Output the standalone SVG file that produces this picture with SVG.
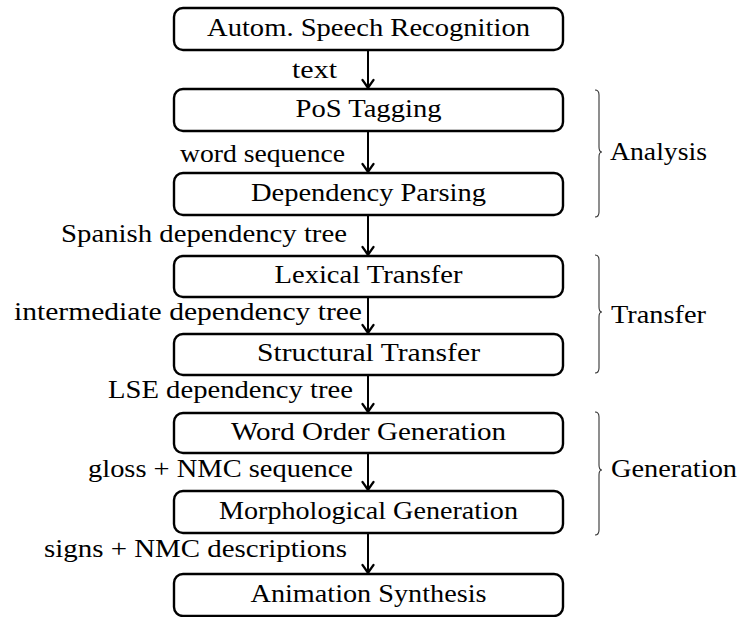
<svg xmlns="http://www.w3.org/2000/svg" width="740" height="617" viewBox="0 0 740 617">
  <style>
    text { font-size: 25px; fill: #000; }
    .serif { font-family: "Liberation Serif", serif; }
    .box { fill: #fff; stroke: #000; stroke-width: 2.4; }
    .name { text-anchor: middle; }
    .lbl { text-anchor: end; }
    .edge { stroke: #000; stroke-width: 2; fill: none; marker-end: url(#tip); }
    .brace { stroke: #333; stroke-width: 1.1; fill: none; }
  </style>
  <defs>
    <marker id="tip" markerUnits="userSpaceOnUse" viewBox="-10 -7 12 14" refX="0" refY="0" markerWidth="12" markerHeight="14" orient="auto">
      <path d="M -8,-5.5 Q -2.5,-1.5 0,0 Q -2.5,1.5 -8,5.5" stroke="#000" stroke-width="2.2" fill="none" stroke-linecap="round"/>
    </marker>
  </defs>

  <!-- pipeline stages -->
  <g id="asr"><rect class="box" x="174" y="8" width="389" height="42" rx="9"/><text class="name serif" x="368.5" y="36" textLength="323" lengthAdjust="spacingAndGlyphs">Autom.  Speech Recognition</text></g>
  <g id="pos"><rect class="box" x="174" y="89" width="389" height="42" rx="9"/><text class="name serif" x="368.5" y="117" textLength="146" lengthAdjust="spacingAndGlyphs">PoS Tagging</text></g>
  <g id="parse"><rect class="box" x="174" y="173" width="389" height="42" rx="9"/><text class="name serif" x="368.5" y="201" textLength="235" lengthAdjust="spacingAndGlyphs">Dependency Parsing</text></g>
  <g id="lexical"><rect class="box" x="174" y="256" width="389" height="41" rx="9"/><text class="name serif" x="368.5" y="283" textLength="188" lengthAdjust="spacingAndGlyphs">Lexical Transfer</text></g>
  <g id="structural"><rect class="box" x="174" y="334" width="389" height="41" rx="9"/><text class="name serif" x="368.5" y="361" textLength="223" lengthAdjust="spacingAndGlyphs">Structural Transfer</text></g>
  <g id="wordorder"><rect class="box" x="174" y="413" width="389" height="40" rx="9"/><text class="name serif" x="368.5" y="440" textLength="275" lengthAdjust="spacingAndGlyphs">Word Order Generation</text></g>
  <g id="morph"><rect class="box" x="174" y="491" width="389" height="42" rx="9"/><text class="name serif" x="368.5" y="519" textLength="299" lengthAdjust="spacingAndGlyphs">Morphological Generation</text></g>
  <g id="anim"><rect class="box" x="174" y="574" width="389" height="42" rx="9"/><text class="name serif" x="368.5" y="602" textLength="236" lengthAdjust="spacingAndGlyphs">Animation Synthesis</text></g>

  <!-- data passed between stages -->
  <g id="connectors" class="serif">
    <line class="edge" x1="368" y1="50" x2="368" y2="88"/>
    <line class="edge" x1="368" y1="131" x2="368" y2="172"/>
    <line class="edge" x1="368" y1="215" x2="368" y2="255"/>
    <line class="edge" x1="368" y1="297" x2="368" y2="333"/>
    <line class="edge" x1="368" y1="375" x2="368" y2="412"/>
    <line class="edge" x1="368" y1="453" x2="368" y2="490"/>
    <line class="edge" x1="368" y1="533" x2="368" y2="573"/>
    <text class="lbl serif" x="337" y="78" textLength="45" lengthAdjust="spacingAndGlyphs">text</text>
    <text class="lbl serif" x="345" y="162" textLength="165" lengthAdjust="spacingAndGlyphs">word sequence</text>
    <text class="lbl serif" x="347" y="242" textLength="286" lengthAdjust="spacingAndGlyphs">Spanish dependency tree</text>
    <text class="lbl serif" x="362" y="320" textLength="348" lengthAdjust="spacingAndGlyphs">intermediate dependency tree</text>
    <text class="lbl serif" x="353" y="398" textLength="245" lengthAdjust="spacingAndGlyphs">LSE dependency tree</text>
    <text class="lbl serif" x="353" y="477" textLength="265" lengthAdjust="spacingAndGlyphs">gloss + NMC sequence</text>
    <text class="lbl serif" x="347" y="557" textLength="303" lengthAdjust="spacingAndGlyphs">signs + NMC descriptions</text>
  </g>

  <!-- phase braces -->
  <g id="analysis">
    <path class="brace" d="M595,90 Q599,90 599,95 L599,147 Q599,152 602,152 Q599,152 599,157 L599,212 Q599,217 595,217"/>
    <text class="serif" x="610" y="160" textLength="97" lengthAdjust="spacingAndGlyphs">Analysis</text>
  </g>
  <g id="transfer">
    <path class="brace" d="M595,255 Q599,255 599,260 L599,307 Q599,312 602,312 Q599,312 599,317 L599,368 Q599,373 595,373"/>
    <text class="serif" x="611" y="323" textLength="95" lengthAdjust="spacingAndGlyphs">Transfer</text>
  </g>
  <g id="generation">
    <path class="brace" d="M595,412 Q599,412 599,417 L599,465 Q599,470 602,470 Q599,470 599,475 L599,530 Q599,535 595,535"/>
    <text class="serif" x="611" y="477" textLength="126" lengthAdjust="spacingAndGlyphs">Generation</text>
  </g>
</svg>
